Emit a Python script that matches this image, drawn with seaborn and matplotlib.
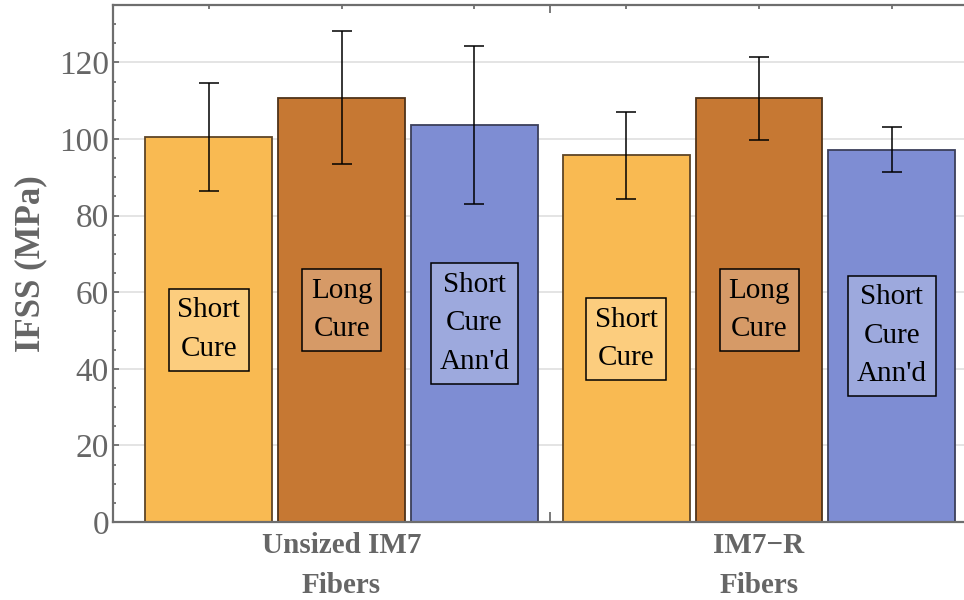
import matplotlib

matplotlib.use("Agg")
import matplotlib.pyplot as plt
import numpy as np
import pandas as pd
import seaborn as sns

# values (MPa)
groups = ["Unsized IM7\nFibers", "IM7\u2212R\nFibers"]
treatments = ["Short\nCure", "Long\nCure", "Short\nCure\nAnn'd"]
unsized_ifss = [100.5, 110.8, 103.7]
unsized_sd = [14.0, 17.3, 20.65]
im7r_ifss = [95.7, 110.6, 97.2]
im7r_sd = [11.45, 10.8, 5.85]

bar_colors = ["#F9BA52", "#C67833", "#7E8DD3"]
edge_colors = ["#5E4526", "#4F3319", "#3B3F5A"]
box_colors = ["#FCCD7E", "#D69A67", "#9DA9DD"]
axis_gray = "#6E6E6E"
text_gray = "#666666"

df = pd.DataFrame(
    {
        "group": np.repeat(groups, len(treatments)),
        "treatment": treatments * len(groups),
        "ifss": unsized_ifss + im7r_ifss,
        "sd": unsized_sd + im7r_sd,
    }
)

sns.set_theme(style="white")
plt.rcParams["font.family"] = ["Liberation Serif", "DejaVu Serif"]

fig = plt.figure(figsize=(9.64, 6.0), dpi=100)
ax = fig.add_axes([0.1175, 0.13, 0.8825, 0.8617])

sns.barplot(
    data=df,
    x="group",
    y="ifss",
    hue="treatment",
    order=groups,
    hue_order=treatments,
    palette=bar_colors,
    saturation=1,
    width=0.954,
    gap=0.044,
    errorbar=None,
    legend=False,
    linewidth=1.3,
    edgecolor="black",
    ax=ax,
)

# bars sorted left to right match the row order of df
bars = sorted(ax.patches, key=lambda p: p.get_x())
centers = []
for i, bar in enumerate(bars):
    k = i % len(treatments)
    bar.set_edgecolor(edge_colors[k])
    bar.set_zorder(2)
    cx = bar.get_x() + bar.get_width() / 2
    centers.append(cx)
    ax.text(
        cx,
        bar.get_height() / 2,
        treatments[k],
        ha="center",
        va="center",
        fontsize=21,
        color="black",
        linespacing=1.62,
        zorder=4,
        bbox=dict(boxstyle="square,pad=0.3", fc=box_colors[k], ec="black", lw=1.1),
    )

ax.errorbar(
    centers,
    df["ifss"],
    yerr=df["sd"],
    fmt="none",
    ecolor="black",
    elinewidth=1.1,
    capsize=7,
    capthick=1.1,
    zorder=3,
)

ax.set_xlim(-0.547, 1.491)
ax.set_ylim(0, 135)
ax.set_yticks(np.arange(0, 121, 20))
ax.set_yticks(np.arange(0, 136, 5), minor=True)
ax.yaxis.grid(True, which="major", color="#DDDDDD", lw=1.1)
ax.xaxis.grid(False)
ax.set_axisbelow(True)

for side in ["left", "bottom", "top"]:
    ax.spines[side].set_visible(True)
    ax.spines[side].set_color(axis_gray)
    ax.spines[side].set_linewidth(1.6)
ax.spines["right"].set_visible(False)

ax.set_xticks([0, 0.5, 1])
ax.set_xticklabels([groups[0], "", groups[1]], fontweight="bold", linespacing=1.62)
ax.set_xticks(centers, minor=True)

ax.tick_params(axis="y", which="major", direction="in", left=True, length=4, width=1.3,
               color=axis_gray, labelsize=24, labelcolor=text_gray, pad=3)
ax.tick_params(axis="y", which="minor", direction="in", left=True, length=2.5, width=1.3,
               color=axis_gray)
ax.tick_params(axis="x", which="both", direction="in", bottom=True, top=True, length=3,
               width=1.3, color=axis_gray, labelsize=21, labelcolor=text_gray, pad=7)

divider = ax.xaxis.get_major_ticks()[1]
divider.tick1line.set_markersize(7)
divider.tick2line.set_markersize(6)

ax.set_xlabel("")
ax.set_ylabel("IFSS (MPa)", fontsize=25, fontweight="bold", color=text_gray)
ax.yaxis.set_label_coords(-0.078, 0.5)

fig.savefig("out.png", dpi=100)
plt.close(fig)
